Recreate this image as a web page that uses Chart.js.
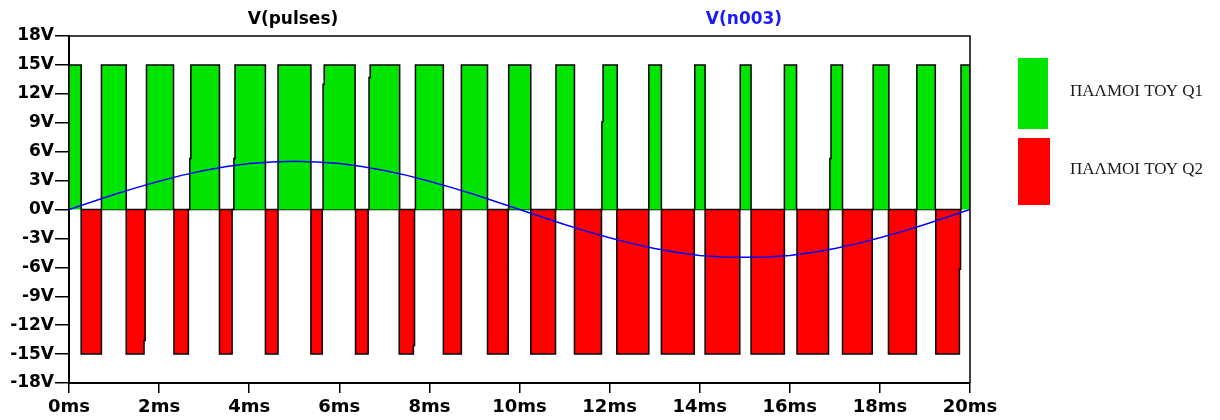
<!DOCTYPE html>
<html>
<head>
<meta charset="utf-8">
<script src="https://cdn.jsdelivr.net/npm/chart.js@4.4.1/dist/chart.umd.min.js"></script>
<style>
  html, body { margin: 0; padding: 0; background: #ffffff; }
  #wrap { width: 1220px; height: 420px; }
</style>
</head>
<body>
<div id="wrap"><canvas id="c" width="1220" height="420"></canvas></div>
<script>
// Gate drive pulses (ms intervals where each switch is on) and the reference sine V(n003)
const q1Level = 15;   // V
const q2Level = -15;  // V

const q1Pulses = [
  [0.00, 0.27], [0.72, 1.27], [1.72, 2.32], [2.68, 3.34], [3.66, 4.36],
  [4.64, 5.37], [5.64, 6.35], [6.66, 7.34], [7.69, 8.31], [8.71, 9.29],
  [9.76, 10.25], [10.81, 11.22], [11.83, 12.17], [12.87, 13.15], [13.89, 14.12],
  [14.90, 15.14], [15.88, 16.15], [16.89, 17.17], [17.85, 18.20], [18.82, 19.23],
  [19.80, 20.00]
];
// Rising edges of Q1 that pause at an intermediate level (ms, V)
const q1RiseSteps = [[2.68, 5.3], [3.66, 5.3], [5.64, 13.0], [6.66, 13.7], [11.83, 9.1], [16.89, 5.3]];

const q2Pulses = [
  [0.27, 0.72], [1.27, 1.69], [2.33, 2.65], [3.34, 3.62], [4.36, 4.64],
  [5.37, 5.62], [6.36, 6.64], [7.33, 7.67], [8.31, 8.71], [9.29, 9.75],
  [10.25, 10.80], [11.22, 11.82], [12.16, 12.87], [13.15, 13.88], [14.12, 14.89],
  [15.14, 15.88], [16.16, 16.86], [17.17, 17.83], [18.19, 18.81], [19.24, 19.79]
];
// Trailing edges of Q2 that pause at an intermediate level (ms, V)
const q2FallSteps = [[1.69, -13.6], [7.67, -14.1], [19.79, -6.2]];

const sineTimes = [
  0, 0.5, 1, 1.5, 2, 2.5, 3, 3.5, 4, 4.5, 5, 5.5, 6, 6.5, 7, 7.5, 8, 8.5, 9, 9.5,
  10, 10.5, 11, 11.5, 12, 12.5, 13, 13.5, 14, 14.5, 15, 15.5, 16, 16.5, 17, 17.5, 18, 18.5, 19, 19.5, 20
];
const sineValues = [
  0, 0.78, 1.55, 2.27, 2.94, 3.54, 4.05, 4.46, 4.76, 4.94, 5.00, 4.94, 4.76, 4.46, 4.05, 3.54, 2.94, 2.27, 1.55, 0.78,
  0, -0.78, -1.55, -2.27, -2.94, -3.54, -4.05, -4.46, -4.76, -4.93, -4.95, -4.93, -4.76, -4.46, -4.05, -3.54, -2.94, -2.27, -1.55, -0.78, 0
];

const xTickStep = 2;   // ms
const yTickStep = 3;   // V
const xRange = [0, 20];
const yRange = [-18, 18];

const traceTitles = [
  { text: 'V(pulses)', color: '#000000', x: 293 },
  { text: 'V(n003)', color: '#1a1aff', x: 744 }
];
const legendItems = [
  { text: 'ΠΑΛΜΟΙ ΤΟΥ Q1', color: '#00e400' },
  { text: 'ΠΑΛΜΟΙ ΤΟΥ Q2', color: '#ff0000' }
];

const stepDwell = 0.025; // ms spent on an intermediate edge level

// Turn on-intervals into a closed rectangular waveform (0 -> level -> 0)
function pulseTrain(pulses, level, riseSteps, fallSteps) {
  const rise = new Map(riseSteps.map(([t, v]) => [t, v]));
  const fall = new Map(fallSteps.map(([t, v]) => [t, v]));
  const pts = [];
  pulses.forEach(([a, b]) => {
    pts.push({ x: a, y: 0 });
    if (rise.has(a)) {
      pts.push({ x: a, y: rise.get(a) }, { x: a + stepDwell, y: rise.get(a) }, { x: a + stepDwell, y: level });
    } else {
      pts.push({ x: a, y: level });
    }
    if (fall.has(b)) {
      pts.push({ x: b - stepDwell, y: level }, { x: b - stepDwell, y: fall.get(b) }, { x: b, y: fall.get(b) });
    } else {
      pts.push({ x: b, y: level });
    }
    pts.push({ x: b, y: 0 });
  });
  return pts;
}

const axisFont = { family: 'DejaVu Sans', weight: 'bold', size: 18 };

// Frame, trace titles and side legend
const decorations = {
  id: 'decorations',
  afterDatasetsDraw(chart) {
    const { ctx, chartArea: a } = chart;
    ctx.save();
    ctx.strokeStyle = '#000';
    ctx.lineWidth = 1.5;
    ctx.beginPath();
    ctx.moveTo(a.left, a.top);
    ctx.lineTo(a.right, a.top);
    ctx.lineTo(a.right, a.bottom);
    ctx.stroke();
    ctx.restore();
  },
  afterDraw(chart) {
    const { ctx } = chart;
    ctx.save();
    ctx.font = 'bold 17px "DejaVu Sans"';
    ctx.textAlign = 'center';
    ctx.textBaseline = 'middle';
    traceTitles.forEach(t => {
      ctx.fillStyle = t.color;
      ctx.fillText(t.text, t.x, 20);
    });

    const boxes = [
      { x: 1018, y: 58, w: 30, h: 71 },
      { x: 1018, y: 138, w: 32, h: 67 }
    ];
    ctx.font = '17px "Liberation Serif"';
    ctx.textAlign = 'left';
    legendItems.forEach((it, i) => {
      const b = boxes[i];
      ctx.fillStyle = it.color;
      ctx.fillRect(b.x, b.y, b.w, b.h);
      ctx.fillStyle = '#1a1a1a';
      ctx.fillText(it.text, 1070, b.y + b.h / 2 - 2);
    });
    ctx.restore();
  }
};

new Chart(document.getElementById('c'), {
  type: 'line',
  data: {
    datasets: [
      {
        label: 'V(n003)',
        data: sineTimes.map((t, i) => ({ x: t, y: sineValues[i] })),
        borderColor: '#0000ff',
        borderWidth: 1.5,
        pointRadius: 0,
        fill: false,
        order: 0
      },
      {
        label: legendItems[0].text,
        data: pulseTrain(q1Pulses, q1Level, q1RiseSteps, []),
        borderColor: '#000000',
        borderWidth: 1.5,
        backgroundColor: legendItems[0].color,
        pointRadius: 0,
        fill: 'origin',
        order: 1
      },
      {
        label: legendItems[1].text,
        data: pulseTrain(q2Pulses, q2Level, [], q2FallSteps),
        borderColor: '#000000',
        borderWidth: 1.5,
        backgroundColor: legendItems[1].color,
        pointRadius: 0,
        fill: 'origin',
        order: 2
      }
    ]
  },
  options: {
    responsive: false,
    animation: false,
    events: [],
    layout: { padding: { top: 36, right: 250, left: 0, bottom: 0 } },
    elements: { line: { tension: 0, borderJoinStyle: 'miter' } },
    plugins: {
      legend: { display: false },
      title: { display: false },
      tooltip: { enabled: false }
    },
    scales: {
      x: {
        type: 'linear',
        min: xRange[0],
        max: xRange[1],
        ticks: {
          stepSize: xTickStep,
          color: '#000',
          font: axisFont,
          padding: 4,
          maxRotation: 0,
          callback: v => v + 'ms'
        },
        grid: { drawOnChartArea: false, drawTicks: true, tickLength: 10, color: '#000', lineWidth: 1.5 },
        border: { display: true, color: '#000', width: 2 },
        afterFit(scale) { scale.height = 37; }
      },
      y: {
        min: yRange[0],
        max: yRange[1],
        ticks: {
          stepSize: yTickStep,
          color: '#000',
          font: { family: 'DejaVu Sans', weight: 'bold', size: 17 },
          padding: 1,
          callback: v => v + 'V'
        },
        grid: { drawOnChartArea: false, drawTicks: true, tickLength: 14, color: '#000', lineWidth: 1.5 },
        border: { display: true, color: '#000', width: 2 },
        afterFit(scale) { scale.width = 69; }
      }
    }
  },
  plugins: [decorations]
});
</script>
</body>
</html>
